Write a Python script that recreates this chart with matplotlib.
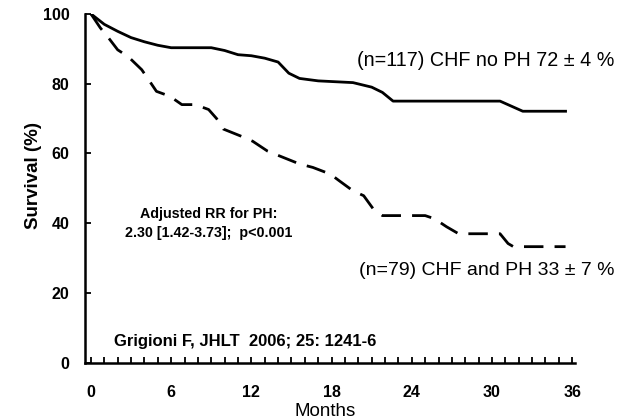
import matplotlib
matplotlib.use('Agg')
import matplotlib.pyplot as plt
import numpy as np

# survival curves (months, %)
no_ph_months = [0, 1, 2, 3, 4, 5, 6, 9, 10, 11, 12, 13, 14, 14.8, 15.6, 17, 19.6, 21, 21.8, 22.6, 30.6, 32.3, 35.5]
no_ph_surv = [100, 97, 95, 93.2, 92, 91, 90.3, 90.3, 89.5, 88.3, 88, 87.3, 86.2, 83, 81.5, 80.8, 80.3, 79, 77.5, 75, 75, 72.1, 72.1]

ph_months = [0, 0.7, 1.3, 2, 2.8, 3.8, 4.3, 4.9, 5.9, 6.8, 7.8, 8.8, 9.4, 9.9, 11.2, 12.1, 13.2, 14.1,
             15.6, 16.6, 17.9, 18.6, 19.6, 20.4, 21.1, 21.8, 25, 25.7, 26.6, 27.5, 30.6, 31.2, 31.6, 35.5]
ph_surv = [100, 96, 93.2, 89.7, 87.7, 84, 81.2, 77.8, 76.4, 74, 74, 72.6, 70, 67, 65, 63.5, 60.7, 59.3,
           57, 56, 54.1, 52.1, 49.3, 47.9, 44.2, 42.2, 42.2, 41.3, 39, 37, 37, 34.2, 33.3, 33.3]

x_ticks = list(range(0, 37))
x_labels = [str(m) if m % 6 == 0 else '' for m in x_ticks]
y_ticks = [0, 20, 40, 60, 80, 100]

plt.rcParams['font.family'] = ['Liberation Sans', 'DejaVu Sans']

fig = plt.figure(figsize=(6.29, 4.2), dpi=100)
ax = fig.add_axes([0.135, 0.136, 0.779, 0.831])

ax.plot(no_ph_months, no_ph_surv, color='black', lw=2.0, solid_joinstyle='round')
ax.plot(ph_months, ph_surv, color='black', lw=2.0, linestyle=(0, (7, 4)))

ax.set_xlim(-0.45, 36.2)
ax.set_ylim(0, 100)
ax.spines['top'].set_visible(False)
ax.spines['right'].set_visible(False)
ax.spines['left'].set_linewidth(1.8)
ax.spines['bottom'].set_linewidth(1.8)

ax.set_xticks(x_ticks)
ax.set_xticklabels(x_labels, fontsize=11.5, fontweight='bold')
ax.set_yticks(y_ticks)
ax.set_yticklabels([str(v) for v in y_ticks], fontsize=11.5, fontweight='bold')
ax.tick_params(axis='x', direction='in', length=4, width=1.3, pad=16)
ax.tick_params(axis='y', direction='in', length=4, width=1.3, pad=11)

ax.set_ylabel('Survival (%)', fontsize=13.5, fontweight='bold')
ax.yaxis.set_label_coords(-0.088, 0.536)
ax.set_xlabel('Months', fontsize=13.5)
ax.xaxis.set_label_coords(0.49, -0.115)
ax.xaxis.label.set_va('top')

ax.text(0.555, 0.867, '(n=117) CHF no PH 72 ± 4 %', transform=ax.transAxes, fontsize=14.2, va='center')
ax.text(0.56, 0.265, '(n=79) CHF and PH 33 ± 7 %', transform=ax.transAxes, fontsize=14, va='center')
ax.text(0.253, 0.40, 'Adjusted RR for PH:\n2.30 [1.42-3.73];  p<0.001', transform=ax.transAxes,
        fontsize=10.3, fontweight='bold', ha='center', va='center', linespacing=1.5)
ax.text(0.06, 0.06, 'Grigioni F, JHLT  2006; 25: 1241-6', transform=ax.transAxes,
        fontsize=12, fontweight='bold', va='center')

fig.savefig('out.png', dpi=100)
